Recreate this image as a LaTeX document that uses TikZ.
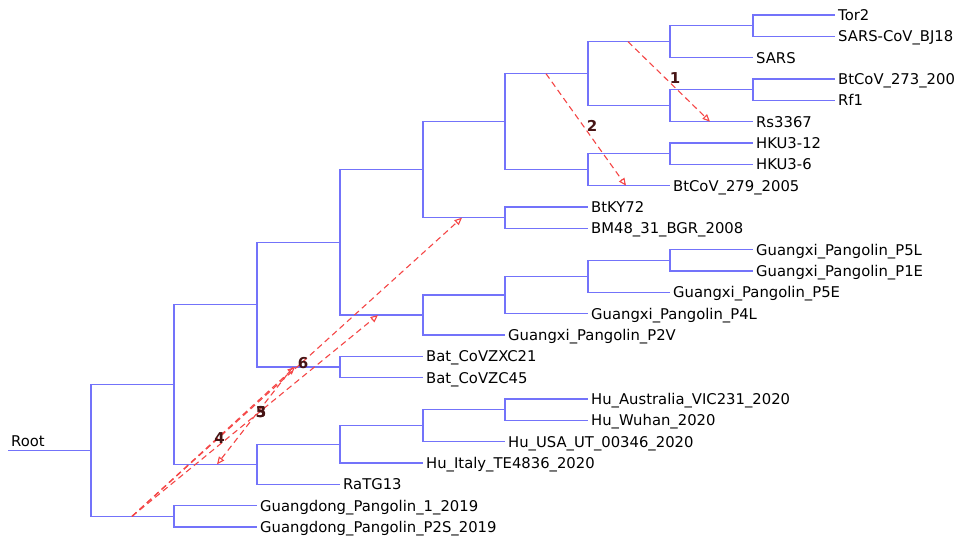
\documentclass[tikz,border=0pt]{standalone}
\usepackage{fontspec}
\setmainfont{DejaVu Sans}
\usetikzlibrary{arrows.meta,calc}
\definecolor{branch}{RGB}{115,115,250}
\definecolor{hgt}{RGB}{245,70,70}
\definecolor{hgtlab}{RGB}{70,20,20}
\tikzset{
  br/.style={draw=branch, line width=1.4pt},
  leaflab/.style={anchor=west, inner xsep=3pt, inner ysep=0pt, text height=10.7pt, text depth=0pt, font=\fontsize{14.8}{16}\selectfont, text=black},
  hgtarrow/.style={draw=hgt, line width=1.1pt, dash pattern=on 6pt off 4pt, -{Triangle[open, length=7.5pt, width=6.5pt]}},
  hgtnum/.style={font=\fontsize{15}{16}\selectfont\bfseries, text=hgtlab, inner sep=0pt}
}
\begin{document}
\begin{tikzpicture}[x=1pt, y=-1pt]
\useasboundingbox (0,0) rectangle (963,539);
\fill[white] (0,0) rectangle (963,539);
% internal nodes
\coordinate (start) at (8,450.42);
\coordinate (Root) at (91,450.42);
\coordinate (B) at (174,384.5);
\coordinate (Q) at (174,516.33);
\coordinate (G) at (257,304.67);
\coordinate (C) at (257,464.33);
\coordinate (I) at (340,242.33);
\coordinate (H) at (340,367);
\coordinate (D) at (340,444.33);
\coordinate (M) at (423,169.67);
\coordinate (J) at (423,315);
\coordinate (E) at (423,425.67);
\coordinate (N) at (505,121.67);
\coordinate (X) at (505,217.67);
\coordinate (K) at (505,295);
\coordinate (F) at (505,409.67);
\coordinate (O) at (588,73.67);
\coordinate (R) at (588,169.67);
\coordinate (L) at (588,276.33);
\coordinate (S) at (670,41.67);
\coordinate (T) at (670,105.67);
\coordinate (W) at (670,153.67);
\coordinate (P) at (670,260.33);
\coordinate (U) at (753,25.67);
\coordinate (V) at (753,89.67);
% leaves
\coordinate (l0) at (835,15);
\coordinate (l1) at (835,36.33);
\coordinate (l2) at (753,57.67);
\coordinate (l3) at (835,79);
\coordinate (l4) at (835,100.33);
\coordinate (l5) at (753,121.67);
\coordinate (l6) at (753,143);
\coordinate (l7) at (753,164.33);
\coordinate (l8) at (670,185.67);
\coordinate (l9) at (588,207);
\coordinate (l10) at (588,228.33);
\coordinate (l11) at (753,249.67);
\coordinate (l12) at (753,271);
\coordinate (l13) at (670,292.33);
\coordinate (l14) at (588,313.67);
\coordinate (l15) at (505,335);
\coordinate (l16) at (423,356.33);
\coordinate (l17) at (423,377.67);
\coordinate (l18) at (588,399);
\coordinate (l19) at (588,420.33);
\coordinate (l20) at (505,441.67);
\coordinate (l21) at (423,463);
\coordinate (l22) at (340,484.33);
\coordinate (l23) at (257,505.67);
\coordinate (l24) at (257,527);
% branches
\draw[br] (start) -- (Root);
\draw[br] (Root) |- (B); \draw[br] (Root) |- (Q);
\draw[br] (B) |- (G); \draw[br] (B) |- (C);
\draw[br] (Q) |- (l23); \draw[br] (Q) |- (l24);
\draw[br] (G) |- (I); \draw[br] (G) |- (H);
\draw[br] (C) |- (D); \draw[br] (C) |- (l22);
\draw[br] (I) |- (M); \draw[br] (I) |- (J);
\draw[br] (H) |- (l16); \draw[br] (H) |- (l17);
\draw[br] (D) |- (E); \draw[br] (D) |- (l21);
\draw[br] (M) |- (N); \draw[br] (M) |- (X);
\draw[br] (J) |- (K); \draw[br] (J) |- (l15);
\draw[br] (E) |- (F); \draw[br] (E) |- (l20);
\draw[br] (N) |- (O); \draw[br] (N) |- (R);
\draw[br] (X) |- (l9); \draw[br] (X) |- (l10);
\draw[br] (K) |- (L); \draw[br] (K) |- (l14);
\draw[br] (F) |- (l18); \draw[br] (F) |- (l19);
\draw[br] (O) |- (S); \draw[br] (O) |- (T);
\draw[br] (R) |- (W); \draw[br] (R) |- (l8);
\draw[br] (L) |- (P); \draw[br] (L) |- (l13);
\draw[br] (S) |- (U); \draw[br] (S) |- (l2);
\draw[br] (T) |- (V); \draw[br] (T) |- (l5);
\draw[br] (W) |- (l6); \draw[br] (W) |- (l7);
\draw[br] (P) |- (l11); \draw[br] (P) |- (l12);
\draw[br] (U) |- (l0); \draw[br] (U) |- (l1);
\draw[br] (V) |- (l3); \draw[br] (V) |- (l4);
% labels
\node[leaflab] (t0) at (l0) {Tor2};
\node[leaflab] (t1) at (l1) {SARS-CoV\_BJ18};
\node[leaflab] (t2) at (l2) {SARS};
\node[leaflab] (t3) at (l3) {BtCoV\_273\_200};
\node[leaflab] (t4) at (l4) {Rf1};
\node[leaflab] (t5) at (l5) {Rs3367};
\node[leaflab] (t6) at (l6) {HKU3-12};
\node[leaflab] (t7) at (l7) {HKU3-6};
\node[leaflab] (t8) at (l8) {BtCoV\_279\_2005};
\node[leaflab] (t9) at (l9) {BtKY72};
\node[leaflab] (t10) at (l10) {BM48\_31\_BGR\_2008};
\node[leaflab] (t11) at (l11) {Guangxi\_Pangolin\_P5L};
\node[leaflab] (t12) at (l12) {Guangxi\_Pangolin\_P1E};
\node[leaflab] (t13) at (l13) {Guangxi\_Pangolin\_P5E};
\node[leaflab] (t14) at (l14) {Guangxi\_Pangolin\_P4L};
\node[leaflab] (t15) at (l15) {Guangxi\_Pangolin\_P2V};
\node[leaflab] (t16) at (l16) {Bat\_CoVZXC21};
\node[leaflab] (t17) at (l17) {Bat\_CoVZC45};
\node[leaflab] (t18) at (l18) {Hu\_Australia\_VIC231\_2020};
\node[leaflab] (t19) at (l19) {Hu\_Wuhan\_2020};
\node[leaflab] (t20) at (l20) {Hu\_USA\_UT\_00346\_2020};
\node[leaflab] (t21) at (l21) {Hu\_Italy\_TE4836\_2020};
\node[leaflab] (t22) at (l22) {RaTG13};
\node[leaflab] (t23) at (l23) {Guangdong\_Pangolin\_1\_2019};
\node[leaflab] (t24) at (l24) {Guangdong\_Pangolin\_P2S\_2019};
\node[leaflab, anchor=base west, inner xsep=0pt] (troot) at (11,446) {Root};
% HGT arrows
\coordinate (a1s) at (628,41.67);   \coordinate (a1e) at (710,121.67);
\coordinate (a2s) at (546,73.67);   \coordinate (a2e) at (626,185.67);
\coordinate (a3s) at (132,516.33);  \coordinate (a3e) at (378,315);
\coordinate (a4s) at (132,516.33);  \coordinate (a4e) at (295,367);
\coordinate (a5s) at (293,367);     \coordinate (a5e) at (217,464.33);
\coordinate (a6s) at (132,516.33);  \coordinate (a6e) at (462,217.67);
\draw[hgtarrow] (a1s) -- (a1e);
\draw[hgtarrow] (a2s) -- (a2e);
\draw[hgtarrow] (a3s) -- (a3e);
\draw[hgtarrow] (a4s) -- (a4e);
\draw[hgtarrow] (a5s) -- (a5e);
\draw[hgtarrow] (a6s) -- (a6e);
\node[hgtnum] (n1) at ($(a1s)!0.5!(a1e)+(6,-4)$) {1};
\node[hgtnum] (n2) at ($(a2s)!0.5!(a2e)+(6,-4)$) {2};
\node[hgtnum] (n3) at ($(a3s)!0.5!(a3e)+(6,-4)$) {3};
\node[hgtnum] (n4) at ($(a4s)!0.5!(a4e)+(6,-4)$) {4};
\node[hgtnum] (n5) at ($(a5s)!0.5!(a5e)+(6,-4)$) {5};
\node[hgtnum] (n6) at ($(a6s)!0.5!(a6e)+(6,-4)$) {6};
\end{tikzpicture}
\end{document}
